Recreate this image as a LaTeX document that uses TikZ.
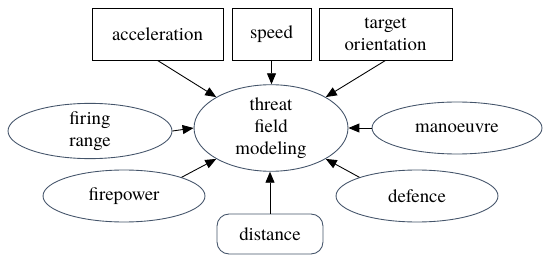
\documentclass[tikz,border=0pt]{standalone}
\usepackage{fontspec}
\setmainfont{texgyretermes}[Extension=.otf,UprightFont=*-regular,
  BoldFont=*-bold,ItalicFont=*-italic,BoldItalicFont=*-bolditalic]
\usepackage{xcolor}
\usetikzlibrary{shapes.geometric,arrows.meta}
\definecolor{rimgray}{HTML}{44546A}
\tikzset{
  factor box/.style={rectangle,draw=black,line width=0.5pt,inner sep=0pt,
    minimum height=10.4mm,align=center,font=\fontsize{10.7}{12.6}\selectfont},
  factor oval/.style={ellipse,draw=rimgray,line width=0.5pt,inner sep=0pt,
    minimum height=10.4mm,align=center,font=\fontsize{10.7}{12.6}\selectfont},
  link/.style={draw=black,line width=0.5pt,-{Triangle[length=2.2mm,width=1.8mm]}}
}

\begin{document}
\begin{tikzpicture}[x=0.02cm,y=-0.02cm]
  \useasboundingbox (0,0) rectangle (550,263);
  % centre
  \node[factor oval,minimum width=30.8mm,minimum height=15.6mm] (threat) at (271,128)
    {threat\\field\\modeling};
  % boxes on top
  \node[factor box,minimum width=26.2mm] (accel) at (157.5,34) {acceleration};
  \node[factor box,minimum width=15.8mm] (speed) at (271.5,34) {speed};
  \node[factor box,minimum width=26.6mm] (target) at (385.5,34) {target\\orientation};
  % ovals round it
  \node[factor oval,minimum width=32.8mm,minimum height=9.2mm] (range) at (90,131)
    {firing\\range};
  \node[factor oval,minimum width=34mm] (manoeuvre) at (457,128) {manoeuvre};
  \node[factor oval,minimum width=32.4mm] (firepower) at (124,196) {firepower};
  \node[factor oval,minimum width=32.4mm] (defence) at (417,196) {defence};
  % box below
  \node[factor box,draw=rimgray,rounded corners=2.4mm,minimum width=21.2mm,
    minimum height=8mm] (distance) at (270,234) {distance};
  % arrows
  \draw[link] (accel.south) -- (threat.north west);
  \draw[link] (speed.south) -- (speed.south |- threat.north);
  \draw[link] (target.south) -- (threat.north east);
  \draw[link] (range.east) -- (threat.west);
  \draw[link] (manoeuvre.west) -- (threat.east);
  \draw[link] (firepower.north east) -- (threat.south west);
  \draw[link] (defence.north west) -- (threat.south east);
  \draw[link] (distance.north) -- (distance.north |- threat.south);
\end{tikzpicture}
\end{document}
